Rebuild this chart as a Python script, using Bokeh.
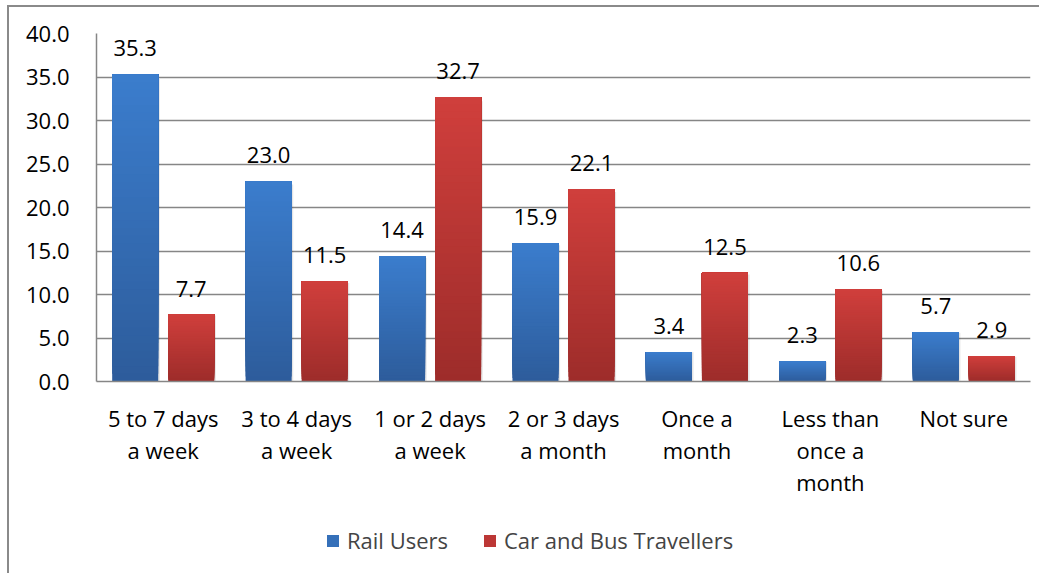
from bokeh.plotting import figure
from bokeh.layouts import column
from bokeh.models import (ColumnDataSource, FactorRange, Range1d, FixedTicker,
                          PrintfTickFormatter, Legend, LegendItem)
from bokeh.transform import dodge
from bokeh.core.properties import value
from bokeh.embed import file_html
from bokeh.resources import INLINE

categories = ["5 to 7 days\na week", "3 to 4 days\na week", "1 or 2 days\na week",
              "2 or 3 days\na month", "Once a\nmonth", "Less than\nonce a\nmonth", "Not sure"]
rail_users = [35.3, 23.0, 14.4, 15.9, 3.4, 2.3, 5.7]
car_bus = [7.7, 11.5, 32.7, 22.1, 12.5, 10.6, 2.9]
series_names = ["Rail Users", "Car and Bus Travellers"]
y_ticks = [0, 5, 10, 15, 20, 25, 30, 35, 40]

FONT = "Open Sans"
FS = "22px"
GRAY = "#868686"
BAR_W = 0.345
OFFSET = 0.21
N_SLICES = 40
# (top colour, bottom colour) per series
GRADS = [((0x3B, 0x7D, 0xCD), (0x2D, 0x5C, 0x9B)),
         ((0xD0, 0x3F, 0x3C), (0x9D, 0x2C, 0x2A))]

p = figure(x_range=FactorRange(*categories, range_padding=0),
           y_range=Range1d(0, 40), width=1030, height=493,
           output_backend="svg", toolbar_location=None, title=None,
           min_border_left=87, min_border_top=26, min_border_right=9,
           min_border_bottom=10)
p.outline_line_color = None
p.xgrid.grid_line_color = None
p.ygrid.grid_line_color = GRAY
p.ygrid.grid_line_width = 1.5
p.yaxis.ticker = FixedTicker(ticks=y_ticks)
p.yaxis.formatter = PrintfTickFormatter(format="%.1f")
for ax in (p.xaxis[0], p.yaxis[0]):
    ax.axis_line_color = GRAY
    ax.axis_line_width = 1.5
    ax.major_tick_line_color = None
    ax.minor_tick_line_color = None
    ax.major_tick_out = 0
    ax.major_tick_in = 0
    ax.major_label_text_font = FONT
    ax.major_label_text_font_size = FS
    ax.major_label_text_color = "black"
p.yaxis.major_label_standoff = 27
p.xaxis.major_label_standoff = 21
p.xaxis.major_label_text_line_height = 1.08


def mix(c1, c2, t):
    return "#%02x%02x%02x" % tuple(int(round(a + (b - a) * t)) for a, b in zip(c1, c2))


# legend figure (below the chart)
pl = figure(width=1030, height=73, output_backend="svg", toolbar_location=None,
            title=None, x_axis_location=None, y_axis_location=None,
            x_range=Range1d(0, 1), y_range=Range1d(0, 1),
            min_border_left=0, min_border_right=0, min_border_top=0, min_border_bottom=0)
pl.outline_line_color = None
pl.grid.visible = False

legend_items = []
for si, (vals, off) in enumerate(((rail_users, -OFFSET), (car_bus, OFFSET))):
    top_c, bot_c = GRADS[si]
    # soft shadow on the right of each bar
    shadow = ColumnDataSource(dict(x=categories, top=[v * 0.985 for v in vals]))
    p.vbar(x=dodge("x", off + 0.012, range=p.x_range), top="top", bottom=0,
           width=BAR_W, fill_color="black", fill_alpha=0.10, line_color=None,
           source=shadow)
    xs, tops, bots, cols = [], [], [], []
    for cat, v in zip(categories, vals):
        for i in range(N_SLICES):
            xs.append(cat)
            bots.append(v * i / N_SLICES)
            tops.append(v)
            cols.append(mix(bot_c, top_c, (i + 0.5) / N_SLICES))
    src = ColumnDataSource(dict(x=xs, top=tops, bottom=bots, c=cols))
    p.vbar(x=dodge("x", off, range=p.x_range), top="top", bottom="bottom",
           width=BAR_W, fill_color="c", line_color=None, source=src)
    lab = ColumnDataSource(dict(x=categories, y=vals, t=["%.1f" % v for v in vals]))
    p.text(x=dodge("x", off, range=p.x_range), y="y", text="t", source=lab,
           text_align="center", text_baseline="alphabetic", y_offset=-26,
           text_font=value(FONT), text_font_size=FS, text_color="black")
    dummy = pl.vbar(x=[0.5], top=[0], bottom=[0], width=0.01,
                    fill_color=mix(bot_c, top_c, 0.6), line_color=None)
    legend_items.append(LegendItem(label=series_names[si], renderers=[dummy]))

legend = Legend(items=legend_items, orientation="horizontal", location=(229, 18),
                glyph_width=15, glyph_height=15, label_standoff=7, spacing=34,
                label_text_font=FONT, label_text_font_size=FS,
                border_line_color=None, background_fill_alpha=0,
                margin=0, padding=4)
pl.add_layout(legend, "center")

lay = column(p, pl, spacing=0,
             styles={"border-top": "2px solid #8a8a8a", "border-left": "2px solid #8a8a8a",
                     "margin-left": "7px", "margin-top": "5px"})

open("out.html", "w").write(file_html(lay, INLINE))
